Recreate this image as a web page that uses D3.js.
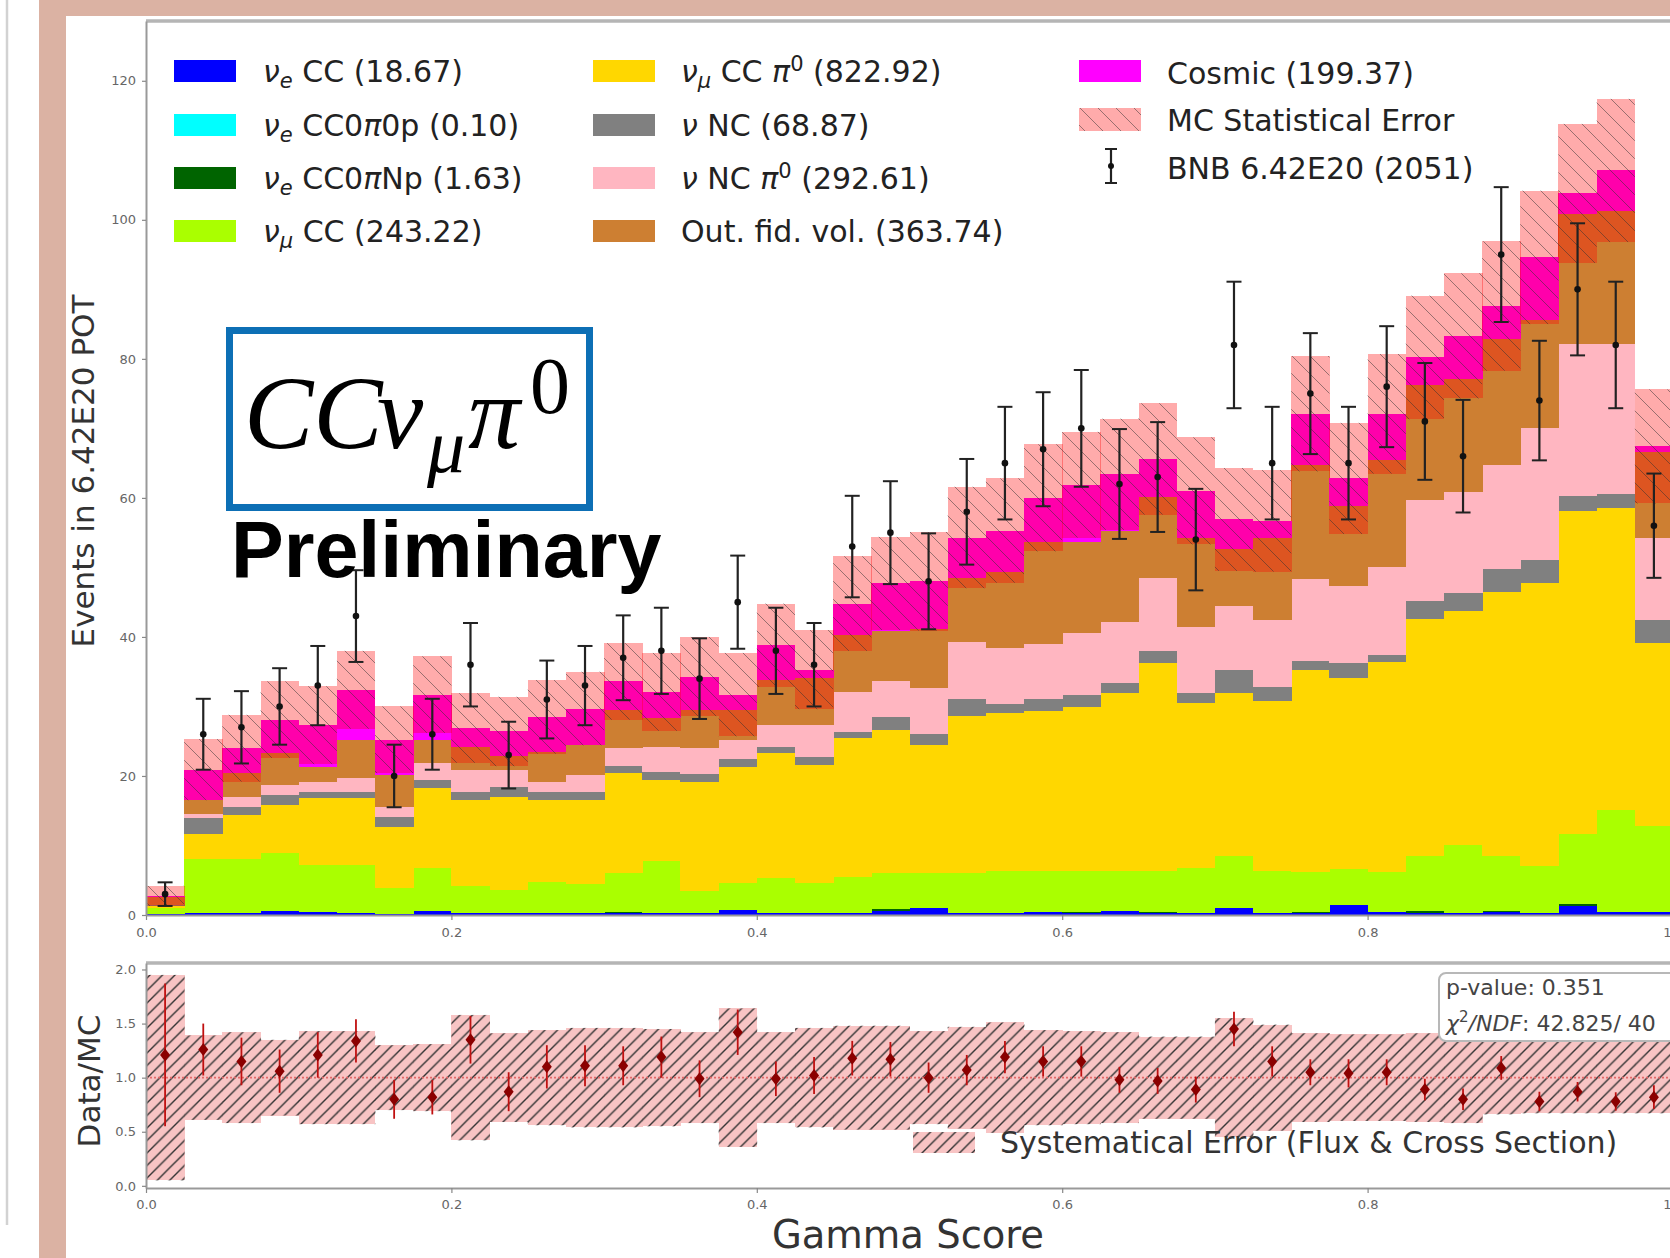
<!DOCTYPE html>
<html>
<head>
<meta charset="utf-8">
<script src="https://cdn.jsdelivr.net/npm/d3@7/dist/d3.min.js"></script>
<style>
html,body{margin:0;padding:0;background:#fff;}
svg{display:block;}
</style>
</head>
<body>
<svg id="chart" width="1670" height="1258" font-family="DejaVu Sans, sans-serif" xmlns="http://www.w3.org/2000/svg"></svg>
<script>
// ================= DATA =================
const binWidth = 0.025;
const binLow = d3.range(40).map(i => +(i * binWidth).toFixed(3));

const nueCC      = [0.1,0.3,0.3,0.6,0.5,0.3,0.2,0.6,0.3,0.3, 0.3,0.3,0.3,0.3,0.3,0.7,0.3,0.3,0.3,0.6, 1.0,0.3,0.3,0.4,0.3,0.6,0.3,0.3,1.0,0.3, 0.3,1.4,0.4,0.3,0.3,0.4,0.3,1.3,0.5,0.4];
const nueCC0pi0p = [0,0,0,0,0,0,0,0,0,0, 0,0,0,0,0,0,0,0,0,0, 0,0,0,0,0,0,0,0,0.02,0, 0,0.08,0,0,0,0,0,0,0,0];
const nueCC0piNp = [0,0,0,0,0,0,0,0,0,0, 0,0,0.15,0,0,0,0,0,0,0.2, 0,0,0,0,0.2,0,0.2,0,0,0, 0.2,0,0,0.25,0,0.2,0,0.23,0,0];
const numuCC     = [0.9,7.7,7.7,8.3,6.7,6.9,3.7,6.1,3.8,3.3, 4.5,4.1,5.55,7.4,3.1,3.9,5.0,4.3,5.2,5.2, 5.1,5.8,6.1,6.0,5.9,5.8,5.9,6.4,7.48,6.1, 5.7,5.12,5.8,7.95,9.8,7.9,6.7,10.07,14.6,12.4];
const numuCCpi0  = [0.3,3.7,6.4,6.9,9.6,9.6,8.8,11.5,12.4,13.4, 11.7,12.2,14.4,11.7,15.8,16.7,18.0,17.0,19.9,20.6, 18.3,22.5,22.6,22.9,23.5,25.6,29.9,23.8,23.5,24.4, 29.1,27.5,30.2,34.1,33.7,38.0,40.7,46.5,43.4,26.3];
const nuNC       = [0.1,2.2,1.1,1.4,0.9,0.9,1.4,1.2,1.2,1.4, 1.2,1.1,1.1,1.2,1.1,1.2,0.9,1.1,0.9,1.9, 1.7,2.4,1.4,1.7,1.7,1.4,1.7,1.4,3.3,2.0, 1.3,2.1,1.0,2.5,2.5,3.3,3.3,2.2,2.1,3.3];
const nuNCpi0    = [0.1,0.7,1.5,1.5,1.5,2.0,1.5,2.4,3.2,2.5, 1.5,2.4,2.5,3.6,3.7,2.7,3.1,4.6,5.8,5.1, 6.5,8.3,8.0,8.0,8.9,8.7,10.5,9.6,9.2,9.6, 11.8,11.1,12.6,14.6,14.6,14.9,19.1,21.9,21.6,11.8];
const outFV      = [1.1,1.9,3.4,4.6,2.1,5.5,4.5,3.4,3.3,1.9, 4.3,4.4,5.5,4.1,5.5,4.3,6.5,6.8,8.2,7.2, 8.6,9.2,11.0,14.7,13.2,13.1,11.6,12.8,8.2,11.9, 16.3,11.6,15.5,16.6,16.2,18.2,15.5,18.6,19.0,12.4];
const cosmic     = [0.15,4.4,3.6,4.8,6.0,7.2,5.1,6.5,2.7,3.6, 5.0,5.2,4.1,3.8,4.8,2.2,5.0,1.2,4.5,6.9, 6.8,5.8,5.9,6.3,8.2,8.2,5.5,6.7,4.2,2.4, 7.4,3.9,6.6,3.9,6.2,4.7,9.0,3.0,5.9,0.8];
const mcStatErr  = [1.45,4.4,4.8,5.5,5.6,5.6,4.8,5.5,5.0,5.0, 5.3,5.3,5.5,5.6,5.7,6.0,6.0,5.7,6.8,6.7, 7.1,7.3,7.5,7.7,7.6,8.0,8.0,7.7,7.4,7.3, 8.3,8.0,8.6,8.9,9.0,9.3,9.6,10.0,10.3,8.2];

const bnbData    = [3,26,27,30,33,43,20,26,36,23, 31,33,37,38,34,45,38,36,53,55, 48,58,65,67,70,62,63,54,82,65, 75,65,76,71,66,95,74,90,82,56];
const bnbErr     = [1.7,5.1,5.2,5.5,5.7,6.6,4.5,5.1,6.0,4.8, 5.6,5.7,6.1,6.2,5.8,6.7,6.2,6.0,7.3,7.4, 6.9,7.6,8.1,8.2,8.4,7.9,7.9,7.3,9.1,8.1, 8.7,8.1,8.7,8.4,8.1,9.7,8.6,9.5,9.1,7.5];

const ratio      = [1.21,1.26,1.15,1.06,1.21,1.34,0.80,0.82,1.35,0.87, 1.10,1.11,1.11,1.19,0.99,1.42,0.99,1.02,1.18,1.17, 1.00,1.07,1.19,1.15,1.15,0.98,0.97,0.89,1.45,1.15, 1.05,1.04,1.05,0.89,0.80,1.09,0.78,0.87,0.78,0.82];
const ratioErr   = [0.66,0.24,0.22,0.20,0.21,0.20,0.18,0.16,0.22,0.18, 0.20,0.19,0.18,0.19,0.17,0.21,0.16,0.17,0.16,0.16, 0.14,0.14,0.15,0.14,0.14,0.12,0.12,0.12,0.16,0.14, 0.12,0.13,0.12,0.10,0.10,0.11,0.09,0.09,0.085,0.11];
const sysErr     = [0.95,0.39,0.42,0.35,0.43,0.43,0.30,0.31,0.58,0.41, 0.44,0.46,0.46,0.45,0.42,0.64,0.42,0.46,0.48,0.48, 0.43,0.47,0.51,0.44,0.43,0.42,0.38,0.38,0.55,0.49, 0.41,0.40,0.40,0.41,0.42,0.34,0.33,0.33,0.33,0.33];

const xTicks = [0.0,0.2,0.4,0.6,0.8,1.0];
const yTicksMain = [0,20,40,60,80,100,120];
const yTicksRatio = [0.0,0.5,1.0,1.5,2.0];

const stackKeys = ["nueCC","nueCC0pi0p","nueCC0piNp","numuCC","numuCCpi0","nuNC","nuNCpi0","outFV","cosmic"];
const stackColors = {nueCC:"#0000ff",nueCC0pi0p:"#00ffff",nueCC0piNp:"#006400",numuCC:"#aaff00",
  numuCCpi0:"#ffd700",nuNC:"#808080",nuNCpi0:"#ffb6c1",outFV:"#cd7f32",cosmic:"#ff00ff"};

const legendCol1 = [
  {key:"nueCC", parts:[["ν","i"],["e","sub"],[" CC (18.67)",""]]},
  {key:"nueCC0pi0p", parts:[["ν","i"],["e","sub"],[" CC0",""],["π","i"],["0p (0.10)",""]]},
  {key:"nueCC0piNp", parts:[["ν","i"],["e","sub"],[" CC0",""],["π","i"],["Np (1.63)",""]]},
  {key:"numuCC", parts:[["ν","i"],["μ","sub"],[" CC (243.22)",""]]}
];
const legendCol2 = [
  {key:"numuCCpi0", parts:[["ν","i"],["μ","sub"],[" CC ",""],["π","i"],["0","sup"],[" (822.92)",""]]},
  {key:"nuNC", parts:[["ν","i"],[" NC (68.87)",""]]},
  {key:"nuNCpi0", parts:[["ν","i"],[" NC ",""],["π","i"],["0","sup"],[" (292.61)",""]]},
  {key:"outFV", parts:[["Out. fid. vol. (363.74)",""]]}
];

// ================= DRAW =================
const svg = d3.select("#chart");
const defs = svg.append("defs");

const hb = defs.append("pattern").attr("id","hatchBack").attr("patternUnits","userSpaceOnUse")
  .attr("width",18).attr("height",18);
hb.append("path").attr("d","M0,0 L18,18 M-4.5,13.5 L4.5,22.5 M13.5,-4.5 L22.5,4.5")
  .attr("stroke","rgba(50,50,50,0.5)").attr("stroke-width",1).attr("fill","none");

const hf = defs.append("pattern").attr("id","hatchFwd").attr("patternUnits","userSpaceOnUse")
  .attr("width",12.5).attr("height",12.5);
hf.append("path").attr("d","M0,12.5 L12.5,0 M-3,3 L3,-3 M9.5,15.5 L15.5,9.5")
  .attr("stroke","#333").attr("stroke-width",1.4).attr("fill","none");

defs.append("clipPath").attr("id","clipMain").append("rect").attr("x",146).attr("y",21).attr("width",1530).attr("height",894);
defs.append("clipPath").attr("id","clipRatio").append("rect").attr("x",146).attr("y",963).attr("width",1530).attr("height",225);

// page decoration
svg.append("rect").attr("x",0).attr("y",0).attr("width",1670).attr("height",1258).attr("fill","#fff");
svg.append("line").attr("x1",7).attr("x2",7).attr("y1",0).attr("y2",1225).attr("stroke","#d2d2d2").attr("stroke-width",2.5);
svg.append("rect").attr("x",39).attr("y",0).attr("width",27).attr("height",1258).attr("fill","#dbb2a3");
svg.append("rect").attr("x",39).attr("y",0).attr("width",1631).attr("height",16).attr("fill","#dbb2a3");

// scales
const x = d3.scaleLinear().domain([0,1]).range([146,1673]);
const y = d3.scaleLinear().domain([0,128.6]).range([915,21]);
const yr = d3.scaleLinear().domain([-0.02,2.06]).range([1188,963]);

const rows = binLow.map((b,i)=>({x0:b, nueCC:nueCC[i], nueCC0pi0p:nueCC0pi0p[i], nueCC0piNp:nueCC0piNp[i],
  numuCC:numuCC[i], numuCCpi0:numuCCpi0[i], nuNC:nuNC[i], nuNCpi0:nuNCpi0[i], outFV:outFV[i], cosmic:cosmic[i]}));
const series = d3.stack().keys(stackKeys)(rows);
const totals = rows.map(r => d3.sum(stackKeys, k => r[k]));

const gMain = svg.append("g").attr("clip-path","url(#clipMain)");
series.forEach(s => {
  gMain.append("g").attr("fill", stackColors[s.key]).selectAll("rect").data(s).join("rect")
    .attr("x", d => x(d.data.x0)).attr("width", d => x(d.data.x0+binWidth)-x(d.data.x0)+0.4)
    .attr("y", d => y(d[1])).attr("height", d => Math.max(0, y(d[0])-y(d[1])))
    .attr("shape-rendering","crispEdges");
});
const bandData = binLow.map((b,i)=>({x0:b, lo:totals[i]-mcStatErr[i], hi:totals[i]+mcStatErr[i]}));
gMain.append("g").selectAll("rect").data(bandData).join("rect")
  .attr("x", d=>x(d.x0)).attr("width", d=>x(d.x0+binWidth)-x(d.x0)+0.4)
  .attr("y", d=>y(d.hi)).attr("height", d=>y(d.lo)-y(d.hi))
  .attr("fill","rgba(255,0,0,0.33)").attr("shape-rendering","crispEdges");
gMain.append("g").selectAll("rect").data(bandData).join("rect")
  .attr("x", d=>x(d.x0)).attr("width", d=>x(d.x0+binWidth)-x(d.x0))
  .attr("y", d=>y(d.hi)).attr("height", d=>y(d.lo)-y(d.hi))
  .attr("fill","url(#hatchBack)");

const gData = gMain.append("g");
binLow.forEach((b,i)=>{
  const cx = x(b+binWidth/2);
  gData.append("line").attr("x1",cx).attr("x2",cx).attr("y1",y(bnbData[i]-bnbErr[i])).attr("y2",y(bnbData[i]+bnbErr[i]))
    .attr("stroke","#222").attr("stroke-width",2.2);
  [bnbData[i]-bnbErr[i], bnbData[i]+bnbErr[i]].forEach(v=>{
    gData.append("line").attr("x1",cx-7.5).attr("x2",cx+7.5).attr("y1",y(v)).attr("y2",y(v))
      .attr("stroke","#222").attr("stroke-width",2);
  });
  gData.append("circle").attr("cx",cx).attr("cy",y(bnbData[i])).attr("r",3.3).attr("fill","#111");
});

function styleAxis(g){
  g.attr("font-family","DejaVu Sans, sans-serif");
  g.selectAll(".domain").attr("stroke","#999").attr("stroke-width",2);
  g.selectAll(".tick line").attr("stroke","#888").attr("stroke-width",1.2);
  g.selectAll(".tick text").attr("fill","#666").attr("font-size",13);
}
svg.append("line").attr("x1",146).attr("x2",1670).attr("y1",21).attr("y2",21).attr("stroke","#b5b5b5").attr("stroke-width",3.5);
svg.append("g").attr("transform","translate(0,915)")
  .call(d3.axisBottom(x).tickValues(xTicks).tickFormat(d3.format(".1f")).tickSize(5).tickSizeOuter(0).tickPadding(8))
  .call(styleAxis);
svg.append("g").attr("transform","translate(146,0)")
  .call(d3.axisLeft(y).tickValues(yTicksMain).tickFormat(d3.format("d")).tickSize(4).tickSizeOuter(0).tickPadding(6))
  .call(styleAxis);

function rich(textSel, parts, fs){
  let shift = 0;
  parts.forEach(([t,st])=>{
    const ts = textSel.append("tspan").text(t);
    let target = 0, size = fs;
    if(st==="sub"){ target = fs*0.2; size = fs*0.7; }
    if(st==="sup"){ target = -fs*0.38; size = fs*0.7; }
    ts.attr("dy", target-shift).attr("font-size", size);
    if(st==="i"||st==="sub") ts.attr("font-style","italic");
    shift = target;
  });
}
const legFS = 30;
const rowY = [71,125,178,231];
const gLeg = svg.append("g");
[[legendCol1,174,263],[legendCol2,593,681]].forEach(([col,sx,tx])=>{
  col.forEach((e,j)=>{
    gLeg.append("rect").attr("x",sx).attr("y",rowY[j]-11).attr("width",62).attr("height",22).attr("fill",stackColors[e.key]);
    const t = gLeg.append("text").attr("x",tx).attr("y",rowY[j]+11).attr("font-size",legFS).attr("fill","#222");
    rich(t, e.parts, legFS);
  });
});
gLeg.append("rect").attr("x",1079).attr("y",60).attr("width",62).attr("height",22).attr("fill",stackColors.cosmic);
gLeg.append("text").attr("x",1167).attr("y",84).attr("font-size",legFS).attr("fill","#222").text("Cosmic (199.37)");
gLeg.append("rect").attr("x",1079).attr("y",108).attr("width",62).attr("height",23).attr("fill","rgba(255,0,0,0.33)");
gLeg.append("rect").attr("x",1079).attr("y",108).attr("width",62).attr("height",23).attr("fill","url(#hatchBack)");
gLeg.append("text").attr("x",1167).attr("y",131).attr("font-size",legFS).attr("fill","#222").text("MC Statistical Error");
gLeg.append("line").attr("x1",1111).attr("x2",1111).attr("y1",149).attr("y2",183).attr("stroke","#222").attr("stroke-width",2.2);
[149,183].forEach(v=>gLeg.append("line").attr("x1",1105).attr("x2",1117).attr("y1",v).attr("y2",v).attr("stroke","#222").attr("stroke-width",2));
gLeg.append("circle").attr("cx",1111).attr("cy",166).attr("r",3).attr("fill","#111");
gLeg.append("text").attr("x",1167).attr("y",179).attr("font-size",legFS).attr("fill","#222").text("BNB 6.42E20 (2051)");

// overlay box
svg.append("rect").attr("x",229.5).attr("y",330.5).attr("width",360).attr("height",177)
  .attr("fill","#fff").attr("stroke","#0d6fb5").attr("stroke-width",7);
const ccText = svg.append("text").attr("font-family","Liberation Serif, serif").attr("fill","#000");
ccText.append("tspan").attr("x",244).attr("y",448).attr("font-size",104).attr("font-style","italic").text("CC");
ccText.append("tspan").attr("x",377).attr("y",448).attr("font-size",104).attr("font-style","italic").text("ν");
ccText.append("tspan").attr("x",427).attr("y",472).attr("font-size",76).attr("font-style","italic").text("μ");
ccText.append("tspan").attr("x",468).attr("y",448).attr("font-size",104).attr("font-style","italic").text("π");
ccText.append("tspan").attr("x",530).attr("y",413).attr("font-size",80).text("0");

svg.append("text").attr("x",231).attr("y",577).attr("font-family","Liberation Sans, Arial, sans-serif")
  .attr("font-weight","bold").attr("font-size",79).attr("fill","#000").text("Preliminary");

svg.append("text").attr("transform","translate(94,471) rotate(-90)").attr("text-anchor","middle")
  .attr("font-size",31).attr("fill","#333").text("Events in 6.42E20 POT");

// ================= RATIO =================
const gR = svg.append("g").attr("clip-path","url(#clipRatio)");
const sysData = binLow.map((b,i)=>({x0:b, lo:1-sysErr[i], hi:1+sysErr[i]}));
gR.append("g").selectAll("rect").data(sysData).join("rect")
  .attr("x", d=>x(d.x0)).attr("width", d=>x(d.x0+binWidth)-x(d.x0)+0.4)
  .attr("y", d=>yr(d.hi)).attr("height", d=>yr(d.lo)-yr(d.hi))
  .attr("fill","#f8c4c4").attr("shape-rendering","crispEdges");
gR.append("g").selectAll("rect").data(sysData).join("rect")
  .attr("x", d=>x(d.x0)).attr("width", d=>x(d.x0+binWidth)-x(d.x0)+0.4)
  .attr("y", d=>yr(d.hi)).attr("height", d=>yr(d.lo)-yr(d.hi))
  .attr("fill","url(#hatchFwd)");
gR.append("line").attr("x1",146).attr("x2",1673).attr("y1",yr(1)).attr("y2",yr(1))
  .attr("stroke","#e36a6a").attr("stroke-width",1.6).attr("stroke-dasharray","2,2");
binLow.forEach((b,i)=>{
  const cx = x(b+binWidth/2), cy = yr(ratio[i]);
  gR.append("line").attr("x1",cx).attr("x2",cx).attr("y1",yr(ratio[i]-ratioErr[i])).attr("y2",yr(ratio[i]+ratioErr[i]))
    .attr("stroke","#c01010").attr("stroke-width",1.8);
  gR.append("path").attr("d",`M${cx},${cy-6.5} L${cx+5},${cy} L${cx},${cy+6.5} L${cx-5},${cy} Z`).attr("fill","#8b0000");
});
svg.append("line").attr("x1",146).attr("x2",1670).attr("y1",963).attr("y2",963).attr("stroke","#b5b5b5").attr("stroke-width",3.5);
svg.append("g").attr("transform","translate(0,1188)")
  .call(d3.axisBottom(x).tickValues(xTicks).tickFormat(d3.format(".1f")).tickSize(5).tickSizeOuter(0).tickPadding(7))
  .call(styleAxis);
svg.append("g").attr("transform","translate(146,0)")
  .call(d3.axisLeft(yr).tickValues(yTicksRatio).tickFormat(d3.format(".1f")).tickSize(4).tickSizeOuter(0).tickPadding(6))
  .call(styleAxis);

svg.append("rect").attr("x",913).attr("y",1132).attr("width",62).attr("height",21).attr("fill","#f8c4c4");
svg.append("rect").attr("x",913).attr("y",1132).attr("width",62).attr("height",21).attr("fill","url(#hatchFwd)");
svg.append("text").attr("x",1000).attr("y",1153).attr("font-size",30).attr("fill","#333").text("Systematical Error (Flux & Cross Section)");

svg.append("rect").attr("x",1439).attr("y",973).attr("width",260).attr("height",68).attr("rx",7)
  .attr("fill","#fff").attr("stroke","#b8b8b8").attr("stroke-width",2);
svg.append("text").attr("x",1446).attr("y",995).attr("font-size",22).attr("fill","#444").text("p-value: 0.351");
const chi = svg.append("text").attr("x",1446).attr("y",1031).attr("font-size",22).attr("fill","#444");
chi.append("tspan").attr("font-style","italic").text("χ");
chi.append("tspan").attr("font-size",15).attr("dy",-9).text("2");
chi.append("tspan").attr("dy",9).attr("font-style","italic").text("/NDF");
chi.append("tspan").text(": 42.825/ 40");

svg.append("text").attr("transform","translate(100,1081) rotate(-90)").attr("text-anchor","middle")
  .attr("font-size",31).attr("fill","#333").text("Data/MC");
svg.append("text").attr("x",908).attr("y",1248).attr("text-anchor","middle")
  .attr("font-size",38.5).attr("fill","#333").text("Gamma Score");
</script>
</body>
</html>
